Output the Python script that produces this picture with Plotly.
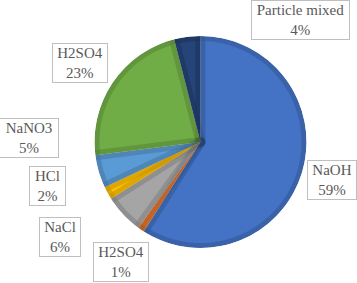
import plotly.graph_objects as go

categories = ["NaOH", "H2SO4", "NaCl", "HCl", "NaNO3", "H2SO4", "Particle mixed"]
values = [59, 1, 6, 2, 5, 23, 4]
colors = ["#4472C4", "#ED7D31", "#A5A5A5", "#FFC000", "#5B9BD5", "#70AD47", "#264478"]

# label box centres (pixels from top-left) and box widths
label_x = [332, 120.5, 60, 47, 29, 79.5, 300]
label_y = [180, 262, 237, 186, 138, 63, 20]
label_w = [46, 52, 38, 33, 56, 52, 95]

W, H = 357, 283
CX, CY, R = 200.5, 142, 106
BAND = 10
A = 0.065

def dom(r):
    return dict(x=[(CX - r) / W, (CX + r) / W], y=[1 - (CY + r) / H, 1 - (CY - r) / H])

ids = [f"s{i}" for i in range(len(values))]
fig = go.Figure()
# fills
fig.add_trace(go.Pie(labels=ids, values=values, sort=False, direction="clockwise", rotation=0,
                     marker=dict(colors=colors, line=dict(width=0)), textinfo="none",
                     hoverinfo="skip", domain=dom(R), showlegend=False))
# bevel: darker band along every slice edge
fig.add_trace(go.Pie(labels=ids, values=values, sort=False, direction="clockwise", rotation=0,
                     marker=dict(colors=["rgba(0,0,0,0)"] * len(values),
                                 line=dict(width=BAND, color=f"rgba(0,0,0,{A})")),
                     textinfo="none", hoverinfo="skip", domain=dom(R), showlegend=False))
fig.add_trace(go.Pie(labels=["ring"], values=[1], sort=False,
                     marker=dict(colors=["rgba(0,0,0,0)"], line=dict(width=BAND, color=f"rgba(0,0,0,{A})")),
                     textinfo="none", hoverinfo="skip", domain=dom(R), showlegend=False))
# white ring hiding the outer half of the stroke
fig.add_trace(go.Pie(labels=["mask"], values=[1], hole=R / (R + 7),
                     marker=dict(colors=["white"], line=dict(width=0)),
                     textinfo="none", hoverinfo="skip", domain=dom(R + 7), showlegend=False))

for name, v, x, y, w in zip(categories, values, label_x, label_y, label_w):
    fig.add_annotation(x=x / W, y=1 - y / H, xref="paper", yref="paper",
                       text=f"{name}<br>{v}%", showarrow=False, width=w,
                       font=dict(family="Liberation Serif, Times New Roman, DejaVu Serif, serif",
                                 size=15, color="#595959"),
                       bgcolor="white", bordercolor="#BFBFBF", borderwidth=1, borderpad=1,
                       xanchor="center", yanchor="middle", align="center")

fig.update_layout(width=W, height=H, margin=dict(l=0, r=0, t=0, b=0),
                  font=dict(family="Liberation Serif, serif"),
                  paper_bgcolor="white", plot_bgcolor="white")
fig.write_html("out.html", config={"displayModeBar": False},
               post_script="document.body.style.margin='0';")
